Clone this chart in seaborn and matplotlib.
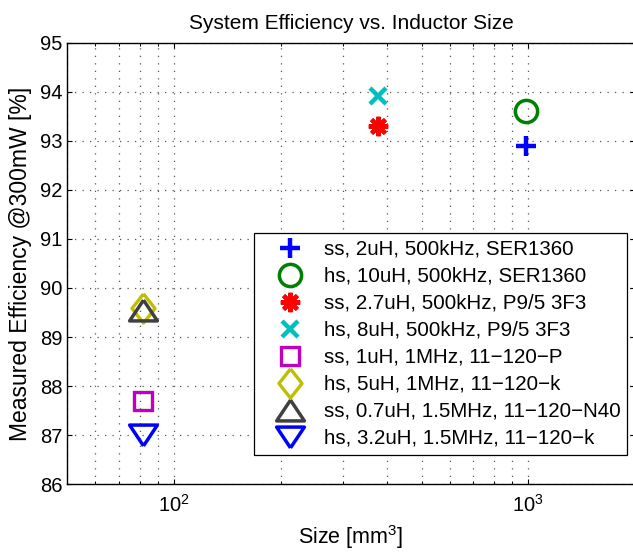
import numpy as np
import matplotlib
matplotlib.use("Agg")
import matplotlib.pyplot as plt
import matplotlib.ticker as mticker
import seaborn as sns

# ---- data ----
labels = [
    "ss, 2uH, 500kHz, SER1360",
    "hs, 10uH, 500kHz, SER1360",
    "ss, 2.7uH, 500kHz, P9/5 3F3",
    "hs, 8uH, 500kHz, P9/5 3F3",
    "ss, 1uH, 1MHz, 11\u2212120\u2212P",
    "hs, 5uH, 1MHz, 11\u2212120\u2212k",
    "ss, 0.7uH, 1.5MHz, 11\u2212120\u2212N40",
    "hs, 3.2uH, 1.5MHz, 11\u2212120\u2212k",
]
sizes = [985, 985, 376, 376, 82, 82, 82, 82]
effs = [92.9, 93.6, 93.3, 93.9, 87.7, 89.6, 89.55, 87.0]
yticks = [86, 87, 88, 89, 90, 91, 92, 93, 94, 95]
xticks = [100, 1000]
xtick_labels = ["$10^{2}$", "$10^{3}$"]

# ---- styles ----
colors = ["#0000FF", "#008000", "#FF0000", "#00BFBF",
          "#BF00BF", "#BFBF00", "#404040", "#0000FF"]
tri_up = [(0, 0.75), (-1, -0.75), (1, -0.75), (0, 0.75)]
tri_dn = [(0, -0.75), (-1, 0.75), (1, 0.75), (0, -0.75)]
diam = [(0, 1), (0.79, 0), (0, -1), (-0.79, 0), (0, 1)]
markers = ["+", "o", (8, 2, 0), "x", "s", diam, tri_up, tri_dn]
msizes = [15, 16, 14, 11.5, 13.5, 21, 20, 20]
mews = [3.2, 2.5, 3.0, 3.2, 2.4, 2.4, 2.5, 2.5]

sns.set_theme(style="white")
plt.rcParams["font.family"] = ["Liberation Sans", "DejaVu Sans"]
plt.rcParams["mathtext.default"] = "regular"

fig = plt.figure(figsize=(6.33, 5.52), dpi=100)
ax = fig.add_axes([67.3 / 633, 1 - 484.3 / 552, (634.9 - 67.3) / 633, (484.3 - 42.5) / 552])

for i in range(len(labels)):
    sns.lineplot(x=[sizes[i]], y=[effs[i]], ax=ax, linestyle="", errorbar=None,
                 marker=markers[i], markersize=msizes[i], color=colors[i],
                 markerfacecolor="none", markeredgecolor=colors[i],
                 markeredgewidth=mews[i], label=labels[i], legend=False)

ax.set_xscale("log")
ax.set_xlim(50, 2000)
ax.set_ylim(86, 95)
ax.set_yticks(yticks)
ax.set_xticks(xticks)
ax.xaxis.set_major_formatter(mticker.FixedFormatter(xtick_labels))
ax.xaxis.set_minor_locator(mticker.LogLocator(base=10, subs=np.arange(2, 10)))
ax.xaxis.set_minor_formatter(mticker.NullFormatter())

grid_kw = dict(color="#555555", linestyle=(0, (1, 5)), linewidth=0.9)
ax.grid(True, which="major", axis="both", **grid_kw)
ax.grid(True, which="minor", axis="x", **grid_kw)
ax.set_axisbelow(True)

for s in ax.spines.values():
    s.set_visible(True)
    s.set_color("black")
    s.set_linewidth(1.0)

ax.tick_params(which="both", direction="in", top=True, right=True,
               bottom=True, left=True, colors="black", labelsize=14.5)
ax.tick_params(which="major", length=3.5, width=0.8)
ax.tick_params(which="minor", length=2.2, width=0.7)
ax.tick_params(axis="y", which="major", pad=3.5)
ax.tick_params(axis="x", which="major", pad=7)

ax.set_title("System Efficiency vs. Inductor Size", fontsize=15, pad=9.5, color="black")
ax.set_xlabel("Size [mm$^3$]", fontsize=15.5, color="black", labelpad=5)
ax.set_ylabel("Measured Efficiency @300mW [%]", fontsize=16.5, color="black", labelpad=5.5)

leg = ax.legend(loc="upper left", bbox_to_anchor=(254 / 633, 1 - 233 / 552),
                bbox_transform=fig.transFigure, borderaxespad=0,
                fontsize=14.8, numpoints=1, handlelength=2.82, handletextpad=0.25,
                labelspacing=0.39, borderpad=0.33, fancybox=False, framealpha=1,
                edgecolor="black")
leg.get_frame().set_linewidth(0.9)
for t in leg.get_texts():
    t.set_color("black")

fig.savefig("out.png", dpi=100)
